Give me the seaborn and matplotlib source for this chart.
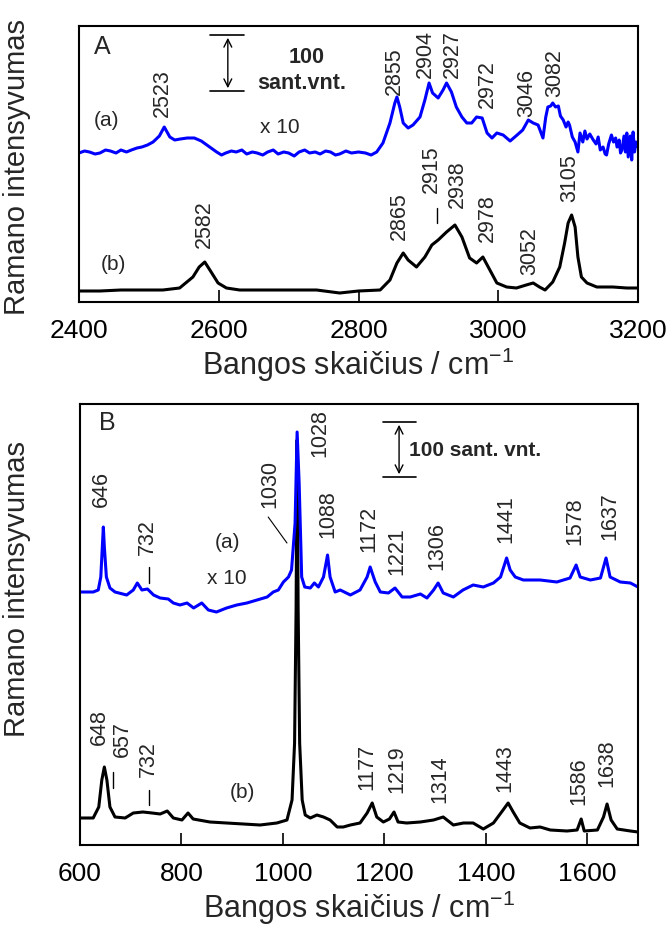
import matplotlib

matplotlib.use("Agg")

import matplotlib.pyplot as plt
import seaborn as sns

# ---- panel A : 2400-3200 cm-1 (intensity in arbitrary units)
wn_a1 = [2400, 2408, 2415, 2423, 2430, 2438, 2445, 2453, 2460, 2468,
         2475, 2483, 2490, 2498, 2506, 2515, 2522, 2530, 2537, 2545,
         2555, 2565, 2575, 2585, 2597, 2604, 2610, 2618, 2625, 2633,
         2640, 2648, 2655, 2663, 2670, 2678, 2685, 2693, 2700, 2708,
         2715, 2723, 2730, 2738, 2745, 2753, 2760, 2767, 2773, 2782,
         2790, 2800, 2810, 2818, 2826, 2835, 2845, 2852, 2855, 2859,
         2864, 2871, 2878, 2888, 2895, 2901, 2906, 2914, 2921, 2926,
         2933, 2940, 2948, 2955, 2962, 2969, 2977, 2984, 2991, 2998,
         3007, 3017, 3027, 3035, 3043, 3050, 3057, 3064, 3068, 3071,
         3075, 3078, 3082, 3086, 3089, 3093, 3097, 3100, 3102, 3106,
         3110, 3114, 3117, 3121, 3124, 3127, 3131, 3136, 3140, 3143,
         3146, 3150, 3153, 3155, 3158, 3162, 3165, 3168, 3170, 3173,
         3175, 3177, 3180, 3182, 3184, 3186, 3189, 3191, 3193, 3195,
         3197, 3200]
int_a1 = [149, 151, 150, 148, 149, 152, 151, 149, 152, 150,
          152, 154, 155, 157, 160, 166, 175, 165, 162, 163,
          164, 164, 161, 156, 150, 147, 149, 151, 150, 152,
          148, 150, 149, 147, 150, 152, 148, 150, 149, 146,
          150, 152, 149, 150, 148, 151, 150, 147, 148, 151,
          149, 150, 149, 147, 150, 159, 179, 199, 205, 195,
          179, 174, 177, 185, 202, 219, 209, 204, 212, 219,
          210, 195, 185, 179, 179, 185, 184, 169, 164, 169,
          167, 161, 167, 172, 182, 179, 177, 164, 185, 195,
          196, 199, 195, 196, 186, 182, 175, 180, 177, 165,
          160, 150, 169, 160, 171, 163, 168, 162, 158, 165,
          152, 155, 148, 147, 158, 167, 160, 164, 155, 162,
          149, 152, 166, 150, 169, 145, 166, 142, 170, 150,
          160, 155]

wn_a2 = [2400, 2430, 2460, 2490, 2520, 2544, 2563, 2572, 2580, 2590,
         2599, 2611, 2630, 2660, 2700, 2740, 2773, 2800, 2831, 2845,
         2855, 2864, 2871, 2883, 2895, 2905, 2914, 2926, 2938, 2948,
         2959, 2969, 2978, 2988, 2998, 3012, 3026, 3040, 3050, 3059,
         3067, 3078, 3088, 3095, 3100, 3105, 3110, 3114, 3119, 3127,
         3141, 3164, 3184, 3200]
int_a2 = [11, 11, 12, 12, 12, 14, 25, 35, 40, 29,
          19, 14, 12, 12, 12, 12, 9, 11, 12, 22,
          39, 49, 42, 35, 45, 57, 62, 70, 77, 65,
          44, 39, 45, 32, 19, 15, 14, 17, 19, 15,
          12, 20, 35, 59, 79, 87, 75, 45, 25, 19,
          15, 15, 14, 14]

# peak labels: (text, x, bottom of text)
labels_a = [("2523", 2519, 185), ("2855", 2852, 207), ("2904", 2896, 224),
            ("2927", 2934, 224), ("2972", 2984, 194), ("3046", 3041, 185),
            ("3082", 3081, 205), ("2582", 2580, 54), ("2865", 2858, 62),
            ("2915", 2904, 109), ("2938", 2941, 94), ("2978", 2984, 60),
            ("3052", 3045, 27), ("3105", 3102, 100)]
ticks_a = [(2912, 94, 79)]
bar_a = (2587, 2636, 2613, 211, 267)

# ---- panel B : 600-1700 cm-1
wn_b1 = [600, 626, 636, 641, 646, 648, 652, 659, 669, 692,
         705, 713, 722, 733, 745, 758, 774, 784, 797, 811,
         824, 840, 853, 869, 889, 909, 929, 949, 969, 981,
         991, 1001, 1011, 1017, 1024, 1028, 1032, 1037, 1043, 1054,
         1062, 1070, 1080, 1088, 1093, 1103, 1113, 1133, 1152, 1166,
         1172, 1182, 1192, 1208, 1221, 1235, 1251, 1271, 1284, 1297,
         1306, 1316, 1336, 1355, 1375, 1395, 1415, 1429, 1441, 1448,
         1458, 1474, 1507, 1540, 1566, 1578, 1586, 1606, 1626, 1637,
         1645, 1665, 1685, 1700]
int_b1 = [246, 246, 248, 261, 311, 291, 261, 250, 246, 243,
          248, 255, 248, 249, 243, 240, 239, 235, 233, 235,
          230, 235, 228, 226, 230, 233, 235, 238, 241, 246,
          248, 256, 261, 268, 315, 406, 355, 261, 251, 250,
          255, 251, 261, 283, 261, 246, 248, 243, 248, 261,
          271, 256, 246, 245, 250, 241, 241, 244, 240, 248,
          255, 245, 241, 248, 253, 251, 255, 261, 280, 268,
          261, 258, 258, 256, 260, 273, 261, 258, 260, 280,
          261, 256, 255, 251]

wn_b2 = [600, 626, 637, 643, 648, 653, 659, 669, 689, 705,
         724, 742, 758, 772, 784, 801, 813, 823, 856, 889,
         922, 955, 988, 1008, 1018, 1023, 1026, 1028, 1030, 1033,
         1038, 1044, 1054, 1067, 1080, 1093, 1107, 1119, 1133, 1152,
         1166, 1176, 1185, 1198, 1210, 1219, 1227, 1244, 1271, 1297,
         1316, 1336, 1356, 1375, 1395, 1415, 1434, 1444, 1454, 1467,
         1487, 1507, 1527, 1560, 1580, 1588, 1594, 1620, 1632, 1639,
         1647, 1659, 1685, 1700]
int_b2 = [20, 20, 31, 58, 71, 58, 31, 21, 20, 25,
          26, 25, 24, 27, 20, 18, 25, 19, 16, 15,
          14, 13, 15, 18, 38, 95, 230, 398, 230, 95,
          38, 23, 20, 23, 21, 18, 11, 11, 13, 15,
          25, 35, 21, 16, 19, 26, 16, 15, 16, 18,
          21, 13, 15, 15, 9, 15, 28, 35, 26, 15,
          10, 11, 8, 7, 8, 19, 7, 8, 21, 34,
          18, 9, 7, 6]

labels_b = [("646", 643, 331), ("732", 732, 283), ("1030", 975, 330),
            ("1028", 1073, 381), ("1088", 1089, 300), ("1172", 1170, 286),
            ("1221", 1225, 263), ("1306", 1304, 268), ("1441", 1440, 295),
            ("1578", 1576, 293), ("1637", 1645, 298), ("648", 639, 93),
            ("657", 683, 81), ("732", 734, 61), ("1177", 1166, 48),
            ("1219", 1225, 45), ("1314", 1310, 35), ("1443", 1438, 46),
            ("1586", 1584, 33), ("1638", 1639, 51)]
ticks_b = [(736, 271, 255), (665, 66, 50), (736, 48, 33)]
bar_b = (1198, 1263, 1229, 361, 416)

BLUE = "#0000ff"
ANN = 15.5

sns.set_theme(style="white")
plt.rcParams["font.family"] = ["Liberation Sans", "DejaVu Sans"]
plt.rcParams["mathtext.fontset"] = "custom"
plt.rcParams["mathtext.rm"] = "Liberation Sans"

fig = plt.figure(figsize=(6.69, 9.31), dpi=100)
ax_a = fig.add_axes([79 / 669, 1 - 302 / 931, 559 / 669, 276 / 931])
ax_b = fig.add_axes([80 / 669, 1 - 845 / 931, 558 / 669, 441 / 931])


def style_axes(ax, xlim, ylim, xticks):
    ax.set_xlim(*xlim)
    ax.set_ylim(*ylim)
    ax.set_xticks(xticks)
    ax.set_yticks([])
    ax.tick_params(axis="x", direction="in", length=9, width=1.2, labelsize=19,
                   pad=12, bottom=True, top=False, colors="black")
    for sp in ax.spines.values():
        sp.set_color("black")
        sp.set_linewidth(1.5)
    ax.set_xlabel("Bangos skaičius / cm$^{-1}$", fontsize=22, labelpad=2)
    ax.set_ylabel("Ramano intensyvumas", fontsize=21)


def scale_bar(ax, bar):
    x0, x1, xm, y0, y1 = bar
    ax.plot([x0, x1], [y0, y0], color="black", lw=1.2)
    ax.plot([x0, x1], [y1, y1], color="black", lw=1.2)
    ax.annotate("", xy=(xm, y1), xytext=(xm, y0),
                arrowprops=dict(arrowstyle="<->", lw=1.0, color="black",
                                mutation_scale=14))


# panel A
sns.lineplot(x=wn_a2, y=int_a2, ax=ax_a, color="black", lw=2.2, estimator=None, sort=False)
sns.lineplot(x=wn_a1, y=int_a1, ax=ax_a, color=BLUE, lw=2.2, estimator=None, sort=False)
style_axes(ax_a, (2400, 3200), (0, 276), range(2400, 3201, 200))
ax_a.yaxis.set_label_coords(-0.086, 0.49)
for txt, x, y in labels_a:
    ax_a.text(x, y, txt, rotation=90, ha="center", va="bottom", fontsize=ANN)
for x, y0, y1 in ticks_a:
    ax_a.plot([x, x], [y0, y1], color="black", lw=1)
scale_bar(ax_a, bar_a)
ax_a.text(2726, 245, "100", ha="center", va="center", fontsize=15.5, fontweight="bold")
ax_a.text(2719, 219, "sant.vnt.", ha="center", va="center", fontsize=15.5, fontweight="bold")
ax_a.text(2434, 255, "A", ha="center", va="center", fontsize=18)
ax_a.text(2440, 182, "(a)", ha="center", va="center", fontsize=15)
ax_a.text(2688, 175, "x 10", ha="center", va="center", fontsize=15)
ax_a.text(2449, 37, "(b)", ha="center", va="center", fontsize=15)

# panel B
sns.lineplot(x=wn_b2, y=int_b2, ax=ax_b, color="black", lw=2.2, estimator=None, sort=False)
sns.lineplot(x=wn_b1, y=int_b1, ax=ax_b, color=BLUE, lw=2.2, estimator=None, sort=False)
style_axes(ax_b, (600, 1700), (-7, 434), range(600, 1601, 200))
ax_b.yaxis.set_label_coords(-0.088, 0.58)
for txt, x, y in labels_b:
    ax_b.text(x, y, txt, rotation=90, ha="center", va="bottom", fontsize=ANN)
for x, y0, y1 in ticks_b:
    ax_b.plot([x, x], [y0, y1], color="black", lw=1)
ax_b.plot([971, 1008], [321, 295], color="black", lw=0.8)
scale_bar(ax_b, bar_b)
ax_b.text(1249, 388, "100 sant. vnt.", ha="left", va="center", fontsize=15, fontweight="bold")
ax_b.text(653, 415, "B", ha="center", va="center", fontsize=18)
ax_b.text(890, 295, "(a)", ha="center", va="center", fontsize=15)
ax_b.text(890, 260, "x 10", ha="center", va="center", fontsize=15)
ax_b.text(921, 45, "(b)", ha="center", va="center", fontsize=15)

fig.savefig("out.png", dpi=100)
